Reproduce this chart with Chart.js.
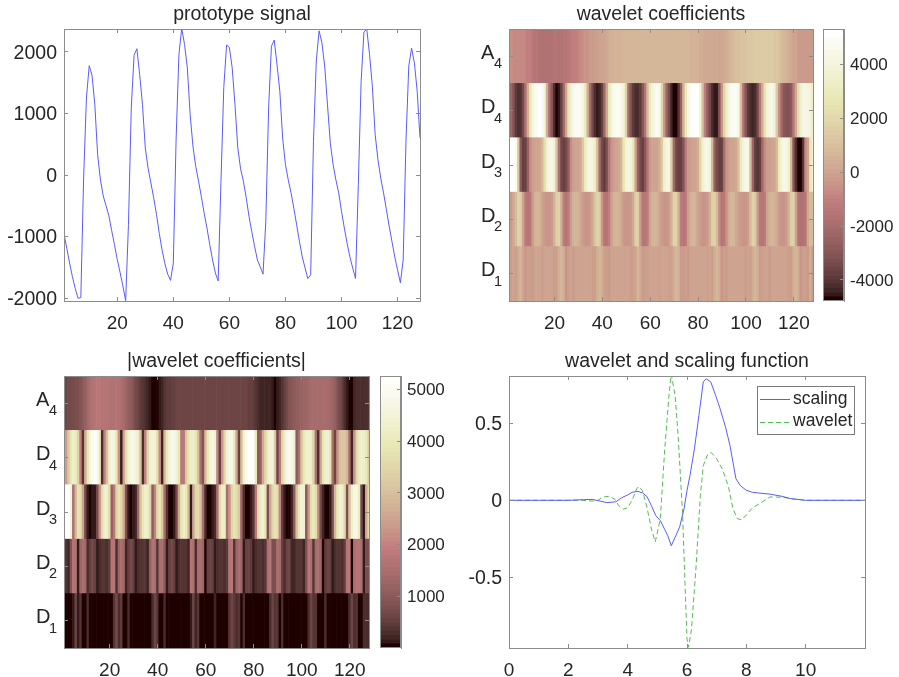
<!DOCTYPE html>
<html>
<head>
<meta charset="utf-8">
<title>wavelet coefficients</title>
<script src="https://cdn.jsdelivr.net/npm/chart.js@4"></script>
<style>
  html, body { margin: 0; padding: 0; background: #fff; }
  body { position: relative; width: 899px; height: 677px; overflow: hidden; }
  canvas { position: absolute; filter: blur(0.45px); }
</style>
</head>
<body>
<canvas id="signal" width="440" height="330" style="left:0;top:0"></canvas>
<canvas id="coef" width="378" height="330" style="left:445px;top:0"></canvas>
<canvas id="coefBar" width="76" height="330" style="left:823px;top:0"></canvas>
<canvas id="absCoef" width="379" height="330" style="left:0;top:347px"></canvas>
<canvas id="absBar" width="76" height="330" style="left:380px;top:347px"></canvas>
<canvas id="wave" width="430" height="330" style="left:445px;top:347px"></canvas>
<script>
const signal = [
  -960, -1190, -1430, -1650, -1840, -2000, -1990, -50, 1250, 1775, 1620, 1140, 330, -80, -340, -500,
  -660, -900, -1130, -1370, -1580, -1800, -2040, -800, 1090, 1945, 2050, 1630, 1140, 440, 110, -130,
  -370, -640, -950, -1220, -1440, -1610, -1710, -1430, 600, 1960, 2380, 2120, 1740, 980, 470, 140,
  -100, -350, -620, -860, -1130, -1380, -1590, -1720, -100, 1420, 2110, 2070, 1740, 1140, 440, 100,
  -100, -370, -670, -920, -1160, -1380, -1490, -1610, -750, 1090, 2090, 2190, 1790, 1360, 600, 170,
  -80, -290, -540, -810, -1080, -1330, -1510, -1680, -1620, 550, 1850, 2340, 2150, 1770, 1140, 520,
  170, -80, -290, -590, -860, -1110, -1330, -1510, -1680, -150, 1520, 2320, 2370, 1960, 1440, 660,
  250, -50, -290, -560, -830, -1080, -1330, -1540, -1750, -1380, 550, 1770, 2060, 1820, 1360, 600
];

const a4 = [
  -650, -650, -680, -700, -720, -760, -800, -880, -1000, -1150, -1350, -1500, -1600, -1700, -1750, -1750,
  -1720, -1680, -1650, -1620, -1620, -1640, -1650, -1620, -1550, -1450, -1300, -1150, -1000, -850, -700, -580,
  -480, -380, -300, -220, -150, -80, -30, 20, 100, 220, 340, 430, 480, 520, 560, 580,
  600, 620, 640, 650, 650, 650, 640, 640, 640, 650, 650, 640, 620, 610, 600, 600,
  600, 600, 590, 590, 600, 620, 640, 650, 650, 640, 620, 600, 580, 540, 500, 450,
  380, 300, 220, 220, 240, 220, 180, 120, 70, 120, 220, 400, 550, 700, 850, 950,
  1050, 1100, 1150, 1200, 1250, 1300, 1350, 1400, 1420, 1420, 1400, 1420, 1450, 1450, 1400, 1350,
  1250, 1100, 900, 700, 500, 300, 150, 50, -30, -220, -300, -320, -300, -280, -300, -350
];
const d4 = [
  -2000, -2400, -3200, -3900, -4300, -4100, -3400, -1900, 400, 2600, 3900, 4600, 5000, 5200, 5000, 4000,
  300, -1900, -3000, -4200, -4700, -4600, -3800, -2200, 100, 2500, 3700, 4400, 4700, 4800, 4600, 4200,
  3000, 300, -2000, -3500, -4300, -4500, -4400, -3700, -2100, 200, 2800, 4000, 4600, 4800, 4800, 4400,
  3800, 1800, -1800, -3200, -3900, -4200, -4200, -3900, -3000, -1500, 900, 2800, 4000, 4500, 4700, 4400,
  2000, -500, -2300, -3500, -4400, -4750, -4700, -4100, -2500, 500, 2900, 4300, 4900, 5100, 5200, 5100,
  4000, 1000, -1200, -2600, -3500, -4200, -4600, -4600, -3200, -600, 1800, 3400, 4200, 4700, 4900, 4800,
  4300, 1000, -1500, -3000, -3900, -4300, -4400, -4200, -3400, -1500, 300, 2500, 3800, 4300, 4400, 3800,
  1500, -600, -2200, -3000, -3200, -3200, -2800, -1400, 200, 2200, 3500, 4100, 4300, 4200, 4000, 3200
];
const d3 = [
  5300, 5300, 5300, 4600, 1500, -2800, -3800, -3700, -2500, -700, -100, 50, 100, 150, 700, 2200,
  3600, 4300, 4300, 3600, 1200, -1800, -3400, -3800, -3500, -2600, -800, -100, 50, 100, 200, 1300,
  3000, 3900, 4300, 4200, 3400, 1000, -2000, -3500, -3900, -3200, -1500, -400, -50, 50, 150, 700,
  2600, 3800, 4200, 4000, 2800, 100, -2500, -3500, -3700, -3000, -1500, -300, 0, 50, 100, 300,
  1500, 3500, 4200, 4200, 1500, -2200, -3400, -3800, -3700, -3200, -1300, -300, -50, 50, 100, 400,
  1800, 3500, 4200, 4400, 3800, 800, -2500, -3500, -3800, -3700, -2000, -500, -100, 0, 80, 200,
  1000, 3000, 4000, 4500, 4300, 1000, -2300, -3700, -4100, -3700, -2200, -700, -200, -50, 50, 100,
  800, 2800, 3900, 4400, 4300, 3500, 800, -3000, -4300, -4700, -4700, -4100, -700, 100, 2600, 3600
];
const d2 = [
  -300, -350, 200, 900, 1700, 1600, 100, -1250, -1500, -1350, -300, 550, 700, 550, 100, -300,
  -400, -400, -300, 450, 1650, 1700, 300, -1250, -1500, -1250, -200, 550, 700, 550, 150, -300,
  -400, -400, -350, 200, 1100, 1700, 1500, -400, -1500, -1500, -1000, 100, 550, 700, 550, 150,
  -300, -400, -400, -350, 200, 1650, 1550, -300, -1450, -1550, -1250, 0, 550, 650, 500, 100,
  -300, -400, -400, -300, 450, 1700, 1750, 400, -1250, -1500, -1250, -100, 550, 650, 450, 100,
  -300, -400, -400, -300, 400, 1550, 1750, 800, -750, -1500, -1450, -550, 300, 650, 650, 200,
  -200, -350, -400, -400, -200, 800, 1750, 1500, -350, -1450, -1500, -1250, 0, 450, 650, 550,
  150, -300, -400, -400, -300, 550, 1650, 1750, 80, -1550, -1650, -1650, -1550, 150, 800, 800
];
const d1 = [
  -40, -50, -40, -60, 150, 650, 100, -380, -60, -50, -300, -40, -30, -40, -50, -40,
  -30, -30, -40, -50, -60, 350, 700, 300, -420, -50, -40, -250, -40, -30, -40, -30,
  -40, -30, -40, -50, -70, 300, 600, 400, -60, -50, -280, -40, -30, -40, -30, -40,
  -30, -40, -40, -50, -60, 100, 650, 200, -350, -60, -60, -40, -30, -40, -30, -200,
  -40, -30, -40, -50, -60, 350, 650, 450, -300, -350, -60, -300, -40, -30, -40, -30,
  -40, -30, -40, -50, -40, -60, 300, 650, 350, -380, -50, -300, -40, -30, -40, -30,
  -40, -30, -40, -50, -40, -60, 300, 650, 400, -330, -50, -40, -40, -250, -40, -30,
  -40, -30, -40, -30, -40, -50, -60, 300, 650, 300, -400, -50, -60, -250, 300, -250
];

const waveX = [0, 1, 2, 2.5, 2.8, 3, 3.15, 3.35, 3.55, 3.7, 3.85, 4, 4.15, 4.3, 4.37, 4.5, 4.65, 4.8, 4.93, 5.1, 5.25, 5.4, 5.47, 5.6, 5.7, 5.85, 5.95, 6, 6.05, 6.15, 6.3, 6.45, 6.55, 6.7, 6.82, 7, 7.2, 7.4, 7.55, 7.7, 7.85, 8, 8.2, 8.5, 8.8, 9.2, 9.6, 10, 11, 12];
const waveY = [0, 0, 0, 0, -0.005, 0, 0.02, 0.026, 0.01, -0.035, -0.058, -0.048, 0, 0.074, 0.09, 0.063, -0.045, -0.187, -0.27, -0.12, 0.334, 0.7, 0.82, 0.68, 0.42, -0.08, -0.64, -0.9, -0.955, -0.84, -0.447, 0.03, 0.226, 0.3, 0.31, 0.27, 0.2, 0.085, -0.056, -0.12, -0.126, -0.095, -0.05, -0.015, 0.022, 0.02, 0.008, 0, 0, 0];
const scaleX = [0, 1, 2, 2.5, 2.8, 3, 3.3, 3.6, 3.8, 4, 4.15, 4.35, 4.5, 4.65, 4.8, 4.95, 5.1, 5.25, 5.35, 5.47, 5.6, 5.75, 5.9, 6, 6.1, 6.25, 6.4, 6.55, 6.65, 6.8, 6.95, 7.1, 7.3, 7.45, 7.55, 7.65, 7.8, 8, 8.2, 8.4, 8.8, 9.2, 9.5, 10, 11, 12];
const scaleY = [0, 0, 0, 0.004, 0.006, -0.002, -0.015, -0.01, 0.017, 0.035, 0.052, 0.058, 0.048, 0.025, -0.035, -0.1, -0.132, -0.19, -0.23, -0.295, -0.24, -0.175, -0.055, 0.063, 0.16, 0.334, 0.55, 0.77, 0.79, 0.77, 0.69, 0.605, 0.475, 0.355, 0.247, 0.14, 0.095, 0.065, 0.052, 0.048, 0.04, 0.026, 0.011, 0, 0, 0];

const rowNames = ["D1", "D2", "D3", "D4", "A4"];
const rowTicks = [0.5, 1.5, 2.5, 3.5, 4.5];
const sampleTicks = [20, 40, 60, 80, 100, 120];
const signalTicks = [-2000, -1000, 0, 1000, 2000];
const coefTicks = [-4000, -2000, 0, 2000, 4000];
const absTicks = [1000, 2000, 3000, 4000, 5000];
const waveXTicks = [0, 2, 4, 6, 8, 10];
const waveYTicks = [-0.5, 0, 0.5];

const axisColor = "#8c8c8c";
const textColor = "#262626";
const fontName = '"Liberation Sans", Arial, sans-serif';
const blue = "#5a5aff";
const green = "#55bb55";

// MATLAB pink colormap, 64 levels
const pink = [];
for (let i = 0; i < 64; i++) {
  const gray = i / 63;
  const r = Math.min((i + 1) / 24, 1);
  const g = i < 24 ? 0 : Math.min((i - 23) / 24, 1);
  const b = i < 48 ? 0 : (i - 47) / 16;
  const c = [r, g, b].map((h) => Math.round(255 * Math.sqrt((2 * gray + h) / 3)));
  pink.push("rgb(" + c.join(",") + ")");
}

function colorOf(v, lo, hi) {
  const i = Math.floor(((v - lo) / (hi - lo)) * 64);
  return pink[Math.max(0, Math.min(63, i))];
}

function setTicks(values) {
  return function (scale) {
    scale.ticks = values.map((v) => ({ value: v }));
  };
}

function axis(extra, values, size) {
  return Object.assign(
    {
      type: "linear",
      offset: false,
      afterBuildTicks: setTicks(values),
      afterFit: function (scale) {
        if (scale.isHorizontal()) scale.height = size;
        else scale.width = size;
        // tick labels may overhang, the plot box must not shrink for them
        scale.paddingLeft = scale.paddingRight = scale.paddingTop = scale.paddingBottom = 0;
      },
      border: { display: true, color: axisColor, width: 1, z: 1 },
      grid: { drawOnChartArea: false, tickLength: -4, color: axisColor, offset: false, z: 1 },
      ticks: {
        display: size > 0,
        autoSkip: false,
        maxRotation: 0,
        color: textColor,
        font: { family: fontName, size: 19 },
        padding: 11,
        callback: (v) => String(v),
      },
    },
    extra
  );
}

function boxScales(xMin, xMax, xTicks, yMin, yMax, yTicks, hideY) {
  const x = axis({ position: "bottom", min: xMin, max: xMax }, xTicks, 29);
  const y = axis({ position: "left", min: yMin, max: yMax }, yTicks, 64);
  x.ticks.padding = 15;
  y.ticks.font = { family: fontName, size: 19.5 };
  y.ticks.labelOffset = 1.5;
  if (hideY) y.ticks.display = false;
  return {
    x: x,
    y: y,
    xTop: axis({ axis: "x", position: "top", min: xMin, max: xMax }, xTicks, 0),
    yRight: axis({ axis: "y", position: "right", min: yMin, max: yMax }, yTicks, 0),
  };
}

function titleOf(text) {
  return {
    display: true,
    text: text,
    fullSize: false,
    color: textColor,
    font: { family: fontName, size: 19.5, weight: "normal", lineHeight: "20px" },
    padding: { top: 5, bottom: 4 },
  };
}

function baseOptions(title, scales, right) {
  return {
    responsive: false,
    animation: false,
    events: [],
    layout: { padding: { right: right } },
    plugins: { legend: { display: false }, tooltip: { enabled: false }, title: titleOf(title) },
    scales: scales,
  };
}

// row names with the index set as a subscript
const rowLabels = {
  id: "rowLabels",
  afterDraw(chart) {
    const ctx = chart.ctx;
    const scale = chart.scales.y;
    ctx.save();
    ctx.fillStyle = textColor;
    ctx.textBaseline = "middle";
    ctx.textAlign = "left";
    rowNames.forEach((name, i) => {
      const py = scale.getPixelForValue(rowTicks[i]);
      ctx.font = "20px " + fontName;
      ctx.fillText(name[0], 36, py - 3);
      ctx.font = "14.5px " + fontName;
      ctx.fillText(name[1], 49, py + 8);
    });
    ctx.restore();
  },
};

const boxBorder = {
  id: "boxBorder",
  afterDraw(chart) {
    const a = chart.chartArea;
    chart.ctx.save();
    chart.ctx.strokeStyle = axisColor;
    chart.ctx.strokeRect(a.left + 0.5, a.top + 0.5, a.right - a.left - 1, a.bottom - a.top - 1);
    chart.ctx.restore();
  },
};

const legendBox = {
  id: "legendBox",
  afterDraw(chart) {
    const ctx = chart.ctx;
    const x = 312, y = 39, w = 97, h = 48;
    ctx.save();
    ctx.fillStyle = "#fff";
    ctx.fillRect(x, y, w, h);
    ctx.strokeStyle = "#7a7a7a";
    ctx.lineWidth = 1;
    ctx.strokeRect(x + 0.5, y + 0.5, w, h);
    ctx.textBaseline = "middle";
    ctx.font = "17.5px " + fontName;
    chart.data.datasets.forEach((ds, i) => {
      const py = y + 13 + i * 22.5;
      ctx.strokeStyle = ds.borderColor;
      ctx.setLineDash(ds.borderDash || []);
      ctx.beginPath();
      ctx.moveTo(x + 3, Math.round(py) + 0.5);
      ctx.lineTo(x + 33, Math.round(py) + 0.5);
      ctx.stroke();
      ctx.fillStyle = textColor;
      ctx.fillText(ds.label, x + 36, py);
    });
    ctx.restore();
  },
};

function heatRows(rows, lo, hi) {
  return rows.map((row) => ({
    data: row.map((v, i) => ({ x: i + 1, y: 1 })),
    backgroundColor: row.map((v) => colorOf(v, lo, hi)),
    borderWidth: 0,
    stack: "rows",
    barPercentage: 1,
    categoryPercentage: 1,
  }));
}

function heatmap(id, title, rows, lo, hi) {
  const scales = boxScales(1, 128, sampleTicks, 0, 5, rowTicks, true);
  scales.y.stacked = true;
  new Chart(document.getElementById(id), {
    type: "bar",
    data: { datasets: heatRows(rows, lo, hi) },
    options: baseOptions(title, scales, 10),
    plugins: [rowLabels],
  });
}

function colorbar(id, lo, hi, ticks) {
  const step = (hi - lo) / 64;
  const y = axis({ position: "right", min: lo, max: hi }, ticks, 55);
  y.ticks.font = { family: fontName, size: 17 };
  y.ticks.padding = 10;
  y.ticks.labelOffset = 1;
  new Chart(document.getElementById(id), {
    type: "bar",
    data: {
      labels: ["level"],
      datasets: pink.map((c, i) => ({
        data: [[lo + i * step, lo + (i + 1) * step]],
        backgroundColor: c,
        grouped: false,
        barPercentage: 1,
        categoryPercentage: 1,
      })),
    },
    options: {
      responsive: false,
      animation: false,
      events: [],
      layout: { padding: { top: 29, bottom: 29 } },
      plugins: { legend: { display: false }, tooltip: { enabled: false } },
      scales: { x: { display: false }, y: y },
    },
    plugins: [boxBorder],
  });
}

const coefRows = [d1, d2, d3, d4, a4];
const absRows = coefRows.map((row) => row.map((v) => Math.abs(v)));

new Chart(document.getElementById("signal"), {
  type: "line",
  data: {
    datasets: [
      {
        data: signal.map((v, i) => ({ x: i + 1, y: v })),
        borderColor: blue,
        borderWidth: 1,
        pointRadius: 0,
        tension: 0,
      },
    ],
  },
  options: baseOptions("prototype signal", boxScales(1, 128, sampleTicks, -2045, 2370, signalTicks), 20),
});

heatmap("coef", "wavelet coefficients", coefRows, -4780, 5320);
colorbar("coefBar", -4780, 5320, coefTicks);
heatmap("absCoef", "|wavelet coefficients|", absRows, 0, 5264);
colorbar("absBar", 0, 5264, absTicks);

new Chart(document.getElementById("wave"), {
  type: "line",
  data: {
    datasets: [
      {
        label: "scaling",
        data: scaleX.map((x, i) => ({ x: x, y: scaleY[i] })),
        borderColor: blue,
        borderWidth: 1,
        pointRadius: 0,
        tension: 0,
      },
      {
        label: "wavelet",
        data: waveX.map((x, i) => ({ x: x, y: waveY[i] })),
        borderColor: green,
        borderDash: [5, 3],
        borderWidth: 1,
        pointRadius: 0,
        tension: 0,
      },
    ],
  },
  options: baseOptions("wavelet and scaling function", boxScales(0, 12, waveXTicks, -0.96, 0.808, waveYTicks), 10),
  plugins: [legendBox],
});
</script>
</body>
</html>
